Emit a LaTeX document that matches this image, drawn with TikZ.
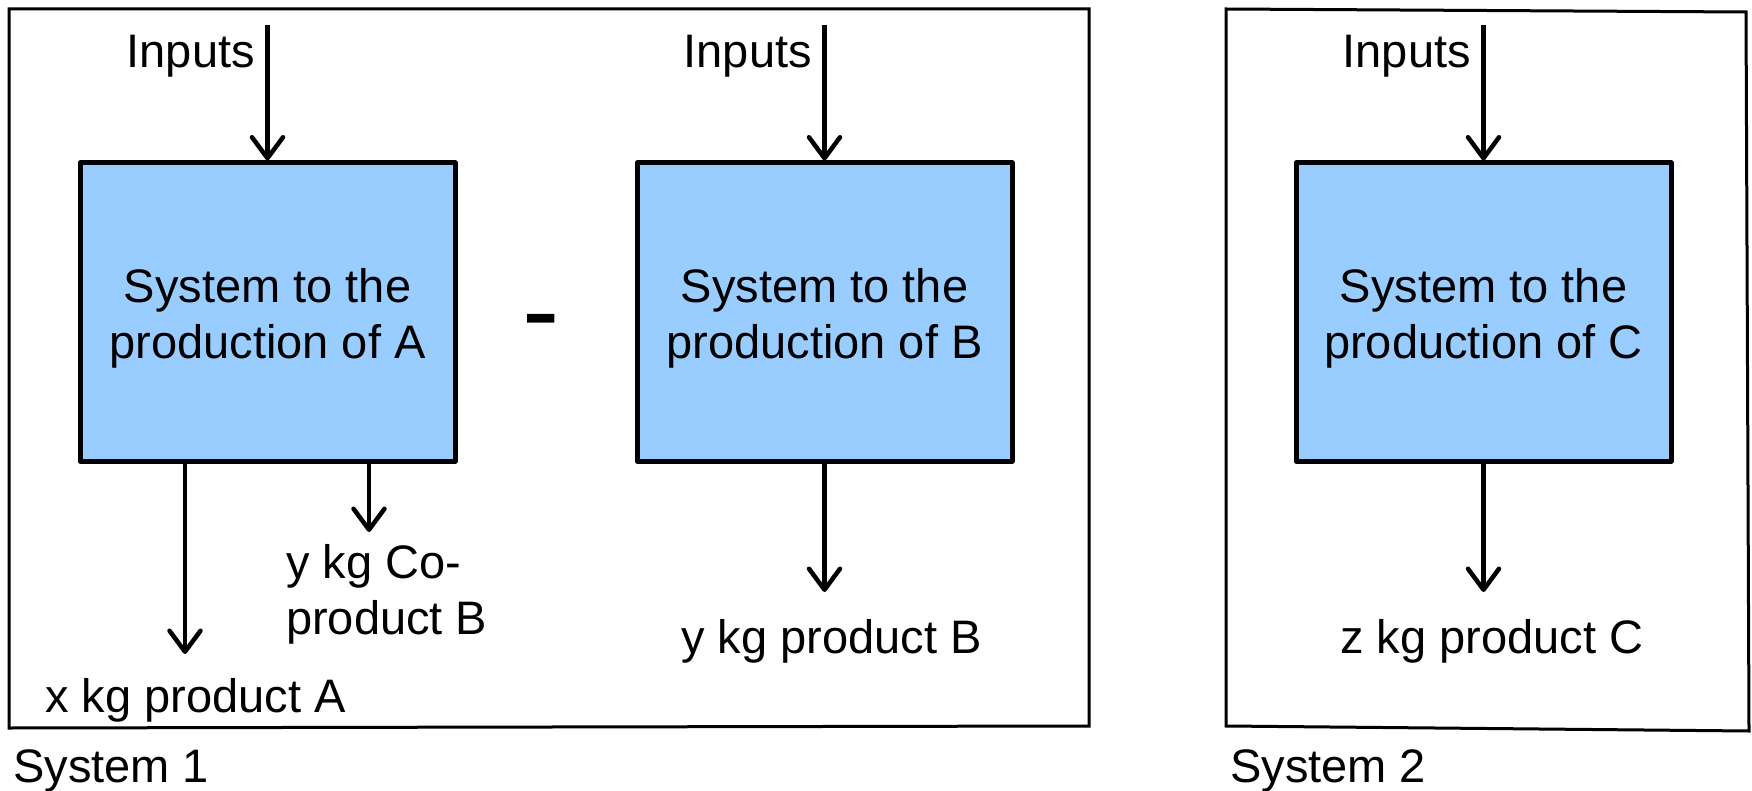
\documentclass[tikz,border=0pt]{standalone}
\usepackage{fontspec}
\setmainfont{Liberation Sans}
\usetikzlibrary{arrows.meta}
\definecolor{procblue}{RGB}{153,204,255}
\begin{document}
\begin{tikzpicture}[x=1pt,y=-1pt,
  proc/.style={draw=black, line width=5pt, line join=round, fill=procblue, minimum width=375pt, minimum height=298pt, inner sep=0pt},
  boxtext/.style={align=center, font=\fontsize{47}{56}\selectfont, inner sep=0pt},
  lbl/.style={font=\fontsize{47}{56}\selectfont, inner sep=0pt},
  flow/.style={line width=4.5pt, -{Straight Barb[length=21pt,width=31pt,round]}},
  frame/.style={line width=3pt, line join=miter}]
\useasboundingbox (0,0) rectangle (1752,791);
% frames
\draw[frame] (9,9) -- (1089,9) -- (1089,726) -- (9,728) -- cycle;
\draw[frame] (1226,9) -- (1746,12) -- (1749,731) -- (1226,726) -- cycle;
% process boxes
\node[proc] (A) at (267.5,312) {};
\node[proc] (B) at (824.5,312) {};
\node[proc] (C) at (1483.5,312) {};
\node[boxtext] (tA) at ([yshift=-6pt]A.center) {System to the\\production of A};
\node[boxtext] (tB) at ([yshift=-6pt]B.center) {System to the\\production of B};
\node[boxtext] (tC) at ([yshift=-6pt]C.center) {System to the\\production of C};
% inputs
\node[lbl, anchor=east] (inA) at (255,56) {Inputs};
\node[lbl, anchor=east] (inB) at (812,56) {Inputs};
\node[lbl, anchor=east] (inC) at (1471,56) {Inputs};
\coordinate (sA) at (267.5,25);
\coordinate (sB) at (824.5,25);
\coordinate (sC) at (1483.5,25);
\draw[flow] (sA) -- (A.north);
\draw[flow] (sB) -- (B.north);
\draw[flow] (sC) -- (C.north);
% outputs
\coordinate (eA) at (185,654);
\coordinate (eCo) at (369,532);
\coordinate (eB) at (824.5,592);
\coordinate (eC) at (1483.5,592);
\draw[flow] (A.south -| eA) -- (eA);
\draw[flow] (A.south -| eCo) -- (eCo);
\draw[flow] (B.south) -- (eB);
\draw[flow] (C.south) -- (eC);
% labels
\node[lbl, anchor=west] (lA) at (45,700) {x kg product A};
\node[lbl, anchor=west, align=left] (lCo) at (286,594) {y kg Co-\\product B};
\node[lbl, anchor=west] (lB) at (681,641) {y kg product B};
\node[lbl, anchor=west] (lC) at (1340,641) {z kg product C};
\node[lbl, anchor=west] (s1) at (13,771) {System 1};
\node[lbl, anchor=west] (s2) at (1230,771) {System 2};
% minus sign
\node[inner sep=0pt, font=\fontsize{112}{112}\selectfont] (minus) at (541,331) {-};
\end{tikzpicture}
\end{document}
